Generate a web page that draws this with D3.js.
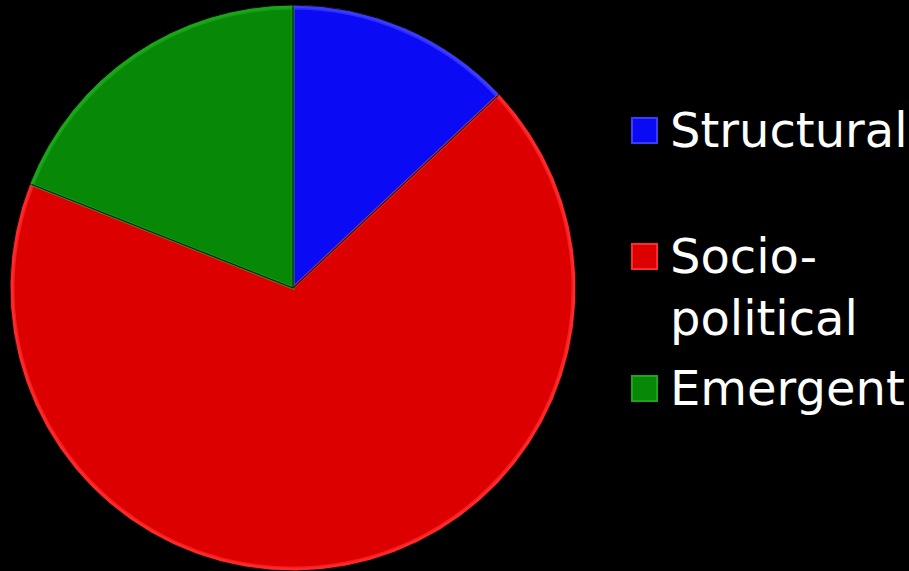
<!DOCTYPE html>
<html>
<head>
<meta charset="utf-8">
<script src="https://cdn.jsdelivr.net/npm/d3@7"></script>
<style>
  html, body { margin: 0; padding: 0; background: #000; }
  svg { display: block; }
</style>
</head>
<body>
<svg id="chart" width="909" height="571"></svg>
<script>
// slice data, clockwise from 12 o'clock
var categories = ["Structural", "Socio-political", "Emergent"]
var values = [13, 68, 19]
var legendLines = [["Structural"], ["Socio-", "political"], ["Emergent"]]
var fills = ["#0a0af5", "#dc0000", "#078807"]
var rims = ["#3c3cff", "#ff2a2a", "#1aa61a"]

const svg = d3.select("#chart")
const cx = 293, cy = 288, radius = 283

const pie = d3.pie().sort(null).value(d => d.value)
const data = categories.map((c, i) => ({ name: c, value: values[i], i: i }))
const arcs = pie(data)

const g = svg.append("g").attr("transform", `translate(${cx},${cy})`)

const arc = d3.arc().innerRadius(0).outerRadius(radius)
const rimArc = d3.arc().innerRadius(0).outerRadius(radius - 3)

// base slices
g.selectAll("path.slice")
  .data(arcs)
  .enter()
  .append("path")
  .attr("class", "slice")
  .attr("d", arc)
  .attr("fill", d => rims[d.data.i])
  .attr("stroke", "#111")
  .attr("stroke-width", 1)

// inner body, slightly darker, to give the bevelled edge
g.selectAll("path.body")
  .data(arcs)
  .enter()
  .append("path")
  .attr("class", "body")
  .attr("d", rimArc)
  .attr("fill", d => fills[d.data.i])
  .attr("stroke", d => rims[d.data.i])
  .attr("stroke-width", 3)
  .attr("stroke-opacity", 0.7)

// dark seams between slices
g.selectAll("line.seam")
  .data(arcs)
  .enter()
  .append("line")
  .attr("class", "seam")
  .attr("x1", 0).attr("y1", 0)
  .attr("x2", d => Math.sin(d.startAngle) * (radius - 2))
  .attr("y2", d => -Math.cos(d.startAngle) * (radius - 2))
  .attr("stroke", "#1a1a1a")
  .attr("stroke-width", 1.2)

// legend
const legendY = [147, 273, 405]
const legend = svg.append("g")

legendLines.forEach(function(lines, i) {
  const item = legend.append("g").attr("transform", `translate(632,${legendY[i]})`)
  item.append("rect")
    .attr("x", 0).attr("y", -29)
    .attr("width", 25).attr("height", 25)
    .attr("fill", fills[i])
    .attr("stroke", rims[i])
    .attr("stroke-width", 2)
  const txt = item.append("text")
    .attr("x", 38).attr("y", 0)
    .attr("fill", "#fff")
    .style("font-family", "'DejaVu Sans', Verdana, sans-serif")
    .style("font-size", "48px")
  lines.forEach(function(l, j) {
    txt.append("tspan").attr("x", 38).attr("y", j * 62).text(l)
  })
})
</script>
</body>
</html>
